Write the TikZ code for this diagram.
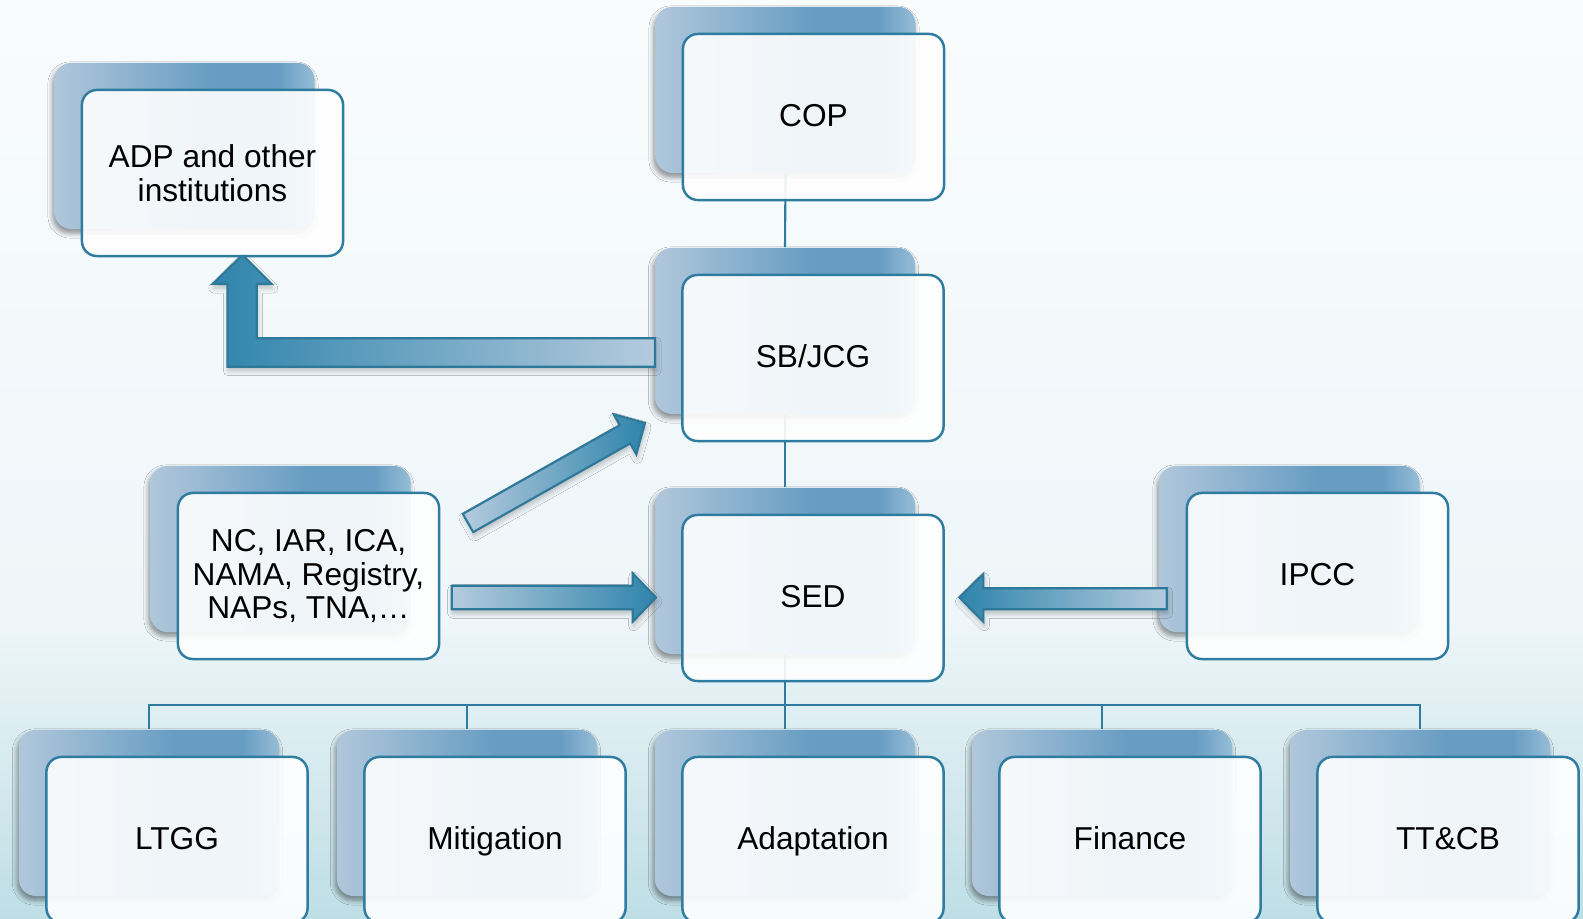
\documentclass[tikz,border=0pt]{standalone}
\usepackage{fontspec}
\setmainfont{Liberation Sans}
\usepackage{tikz}
\usetikzlibrary{shapes,positioning,shadows,shadows.blur}
\usepackage{xcolor}
\definecolor{unline}{RGB}{46,125,160}
\definecolor{unbackl}{RGB}{176,199,219}
\definecolor{unbackm}{RGB}{104,157,195}
\definecolor{unbackr}{RGB}{150,189,214}
\definecolor{unarrowd}{RGB}{47,132,172}
\definecolor{unarrowl}{RGB}{181,203,222}
\definecolor{unarrowline}{RGB}{46,120,154}
\definecolor{unbgtop}{RGB}{249,252,253}
\definecolor{unbgmid}{RGB}{238,246,249}
\definecolor{unbgbot}{RGB}{190,222,229}
\pgfdeclarehorizontalshading{backshade}{100bp}{color(0bp)=(unbackl); color(25bp)=(unbackl); color(55bp)=(unbackm); color(68bp)=(unbackm); color(75bp)=(unbackr); color(100bp)=(unbackr)}
\tikzstyle{backbox} = [rectangle, rounded corners=0.17cm, minimum width=2.6cm, minimum height=1.66cm, shade, shading=backshade, blur shadow={shadow xshift=-0.015cm, shadow yshift=-0.04cm, shadow blur radius=0.05cm, shadow blur steps=6, shadow opacity=45}]
\tikzstyle{frontbox} = [rectangle, rounded corners=0.15cm, minimum width=2.61cm, minimum height=1.66cm, draw=unline, line width=0.7pt, fill=white, fill opacity=0.9, text opacity=1, align=center, font=\fontsize{9}{9.5}\selectfont]
\tikzstyle{oneline} = [text height=7pt, text depth=1.5pt]
\tikzstyle{link} = [draw=unline, line width=0.6pt]
\tikzstyle{blockarrow} = [draw=unarrowline, line width=0.6pt, blur shadow={shadow xshift=0.01cm, shadow yshift=-0.04cm, shadow blur radius=0.05cm, shadow blur steps=5, shadow opacity=25}]

\begin{document}
\begin{tikzpicture}[x=0.01cm, y=-0.01cm]
\useasboundingbox (0,0) rectangle (1583,919);
% Background
\shade[top color=unbgtop, bottom color=unbgmid] (0,0) rectangle (1583,620);
\shade[top color=unbgmid, bottom color=unbgbot] (0,619.5) rectangle (1583,919);

% Back panels
\node[backbox] (copB) at (785.5,90) {};
\node[backbox] (adpB) at (184.5,146) {};
\node[backbox] (sbB) at (785,331) {};
\node[backbox] (ncB) at (280.5,549) {};
\node[backbox] (sedB) at (785,571) {};
\node[backbox] (ipccB) at (1289.5,549) {};
\node[backbox] (ltggB) at (149,813) {};
\node[backbox] (mitB) at (467,813) {};
\node[backbox] (adaptB) at (785,813) {};
\node[backbox] (finB) at (1102,813) {};
\node[backbox] (ttB) at (1420,813) {};

% Hierarchy lines
\coordinate (bus) at (785,705);
\draw[link] (copB.south) -- (sbB.north);
\draw[link] (sbB.south) -- (sedB.north);
\draw[link] (sedB.south) -- (bus);
\foreach \n in {ltggB,mitB,adaptB,finB,ttB}
  \draw[link] (bus) -| (\n.north);

% Block arrows
\draw[blockarrow, left color=unarrowd, right color=unarrowl] (655,338.3) -- (256.7,338.3) -- (256.7,284) -- (271.7,284) -- (242.5,255) -- (212.7,284) -- (227.3,284) -- (227.3,366.7) -- (655,366.7) -- cycle;
\draw[blockarrow, left color=unarrowl, right color=unarrowd] (462.8,513.9) -- (619.8,425.2) -- (613.7,414.3) -- (645,423) -- (636.3,454.3) -- (630.2,443.4) -- (473.2,532.1) -- cycle;
\draw[blockarrow, left color=unarrowl, right color=unarrowd] (451.7,585.7) -- (632.7,585.7) -- (632.7,573.3) -- (656,597.5) -- (632.7,621.7) -- (632.7,609.3) -- (451.7,609.3) -- cycle;
\draw[blockarrow, left color=unarrowd, right color=unarrowl] (1166.7,588.3) -- (983.3,588.3) -- (983.3,574) -- (959.3,597.5) -- (983.3,621.7) -- (983.3,609.3) -- (1166.7,609.3) -- cycle;

% Front boxes
\node[frontbox, oneline] (cop) at (813.5,117) {COP};
\node[frontbox] (adp) at (212.5,173) {ADP and other\\institutions};
\node[frontbox, oneline] (sb) at (813,358) {SB/JCG};
\node[frontbox] (nc) at (308.5,576) {NC, IAR, ICA,\\NAMA, Registry,\\NAPs, TNA,…};
\node[frontbox, oneline] (sed) at (813,598) {SED};
\node[frontbox, oneline] (ipcc) at (1317.5,576) {IPCC};
\node[frontbox, oneline] (ltgg) at (177,840) {LTGG};
\node[frontbox, oneline] (mit) at (495,840) {Mitigation};
\node[frontbox, oneline] (adapt) at (813,840) {Adaptation};
\node[frontbox, oneline] (fin) at (1130,840) {Finance};
\node[frontbox, oneline] (tt) at (1448,840) {TT\&CB};
\end{tikzpicture}
\end{document}
